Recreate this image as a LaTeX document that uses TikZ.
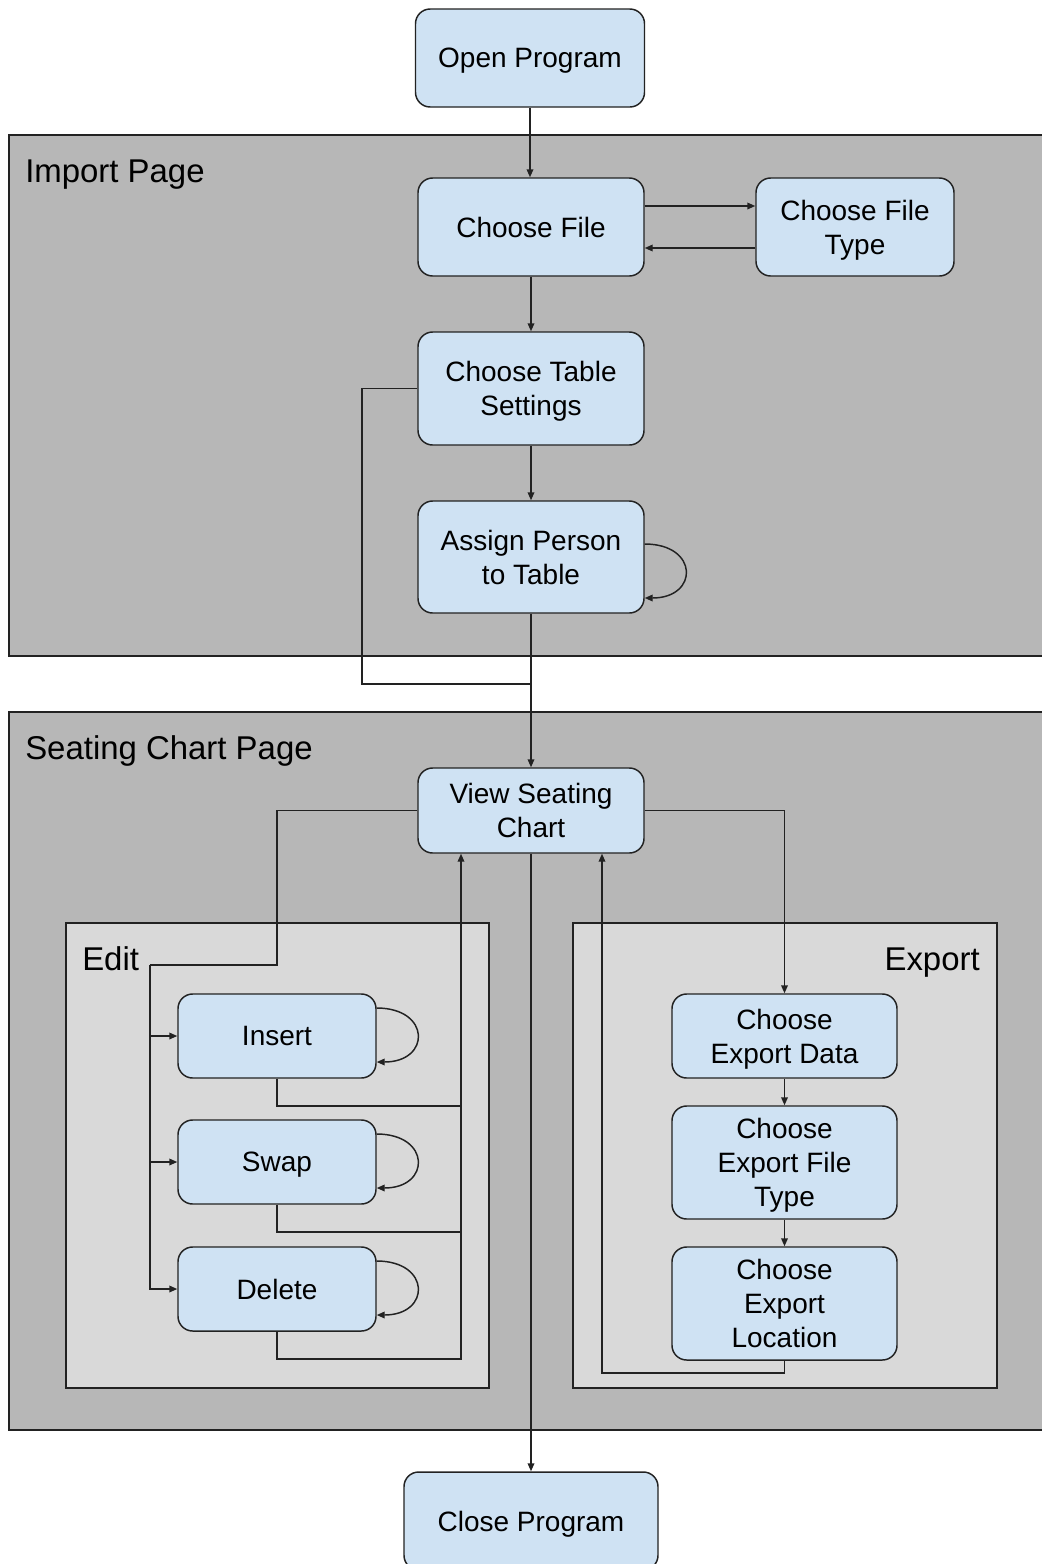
\documentclass[tikz,border=0pt]{standalone}
\usepackage{fontspec}
\setmainfont{Liberation Sans}
\usetikzlibrary{arrows.meta}
\definecolor{nodefill}{HTML}{CFE2F3}
\definecolor{pagegray}{HTML}{B7B7B7}
\definecolor{subgray}{HTML}{D9D9D9}
\definecolor{edgecol}{HTML}{222222}
\begin{document}
\begin{tikzpicture}[x=0.75pt,y=-0.75pt,
  stepbox/.style={draw=edgecol, line width=1.1pt, fill=nodefill, rounded corners=11pt, align=center, font=\fontsize{21}{25.5}\selectfont, inner sep=0pt, text depth=0pt},
  arr/.style={draw=edgecol, line width=1.1pt, -{Triangle[length=6pt,width=5pt]}},
  ln/.style={draw=edgecol, line width=1.1pt},
  panel/.style={draw=edgecol, line width=1.1pt},
  plabel/.style={font=\fontsize{24.7}{29}\selectfont, inner sep=0pt}]
\useasboundingbox (0,0) rectangle (1042,1564);
\clip (0,0) rectangle (1042,1564);
\fill[white] (0,0) rectangle (1042,1564);

% panels
\draw[panel, fill=pagegray] (9,135) rectangle (1050,656);
\draw[panel, fill=pagegray] (9,712) rectangle (1050,1430);
\draw[panel, fill=subgray] (66,923) rectangle (489,1388);
\draw[panel, fill=subgray] (573,923) rectangle (997,1388);
\node[plabel, anchor=base west] (limport) at (25,182) {Import Page};
\node[plabel, anchor=base west] (lseat) at (25,759) {Seating Chart Page};
\node[plabel, anchor=base west] (ledit) at (82,970) {Edit};
\node[plabel, anchor=base east] (lexport) at (980,970) {Export};

% nodes
\node[stepbox, minimum width=171.75pt, minimum height=73.5pt] (open) at (530,58) {Open Program};
\node[stepbox, minimum width=169.5pt, minimum height=73.5pt] (cf) at (531,227) {Choose File};
\node[stepbox, minimum width=148.5pt, minimum height=73.5pt] (cft) at (855,227) {Choose File\\Type};
\node[stepbox, minimum width=169.5pt, minimum height=84.75pt] (cts) at (531,388.5) {Choose Table\\Settings};
\node[stepbox, minimum width=169.5pt, minimum height=84pt] (apt) at (531,557) {Assign Person\\to Table};
\node[stepbox, minimum width=169.5pt, minimum height=63.75pt] (vsc) at (531,810.5) {View Seating\\Chart};
\node[stepbox, minimum width=148.5pt, minimum height=63pt] (ins) at (277,1036) {Insert};
\node[stepbox, minimum width=148.5pt, minimum height=63pt] (swp) at (277,1162) {Swap};
\node[stepbox, minimum width=148.5pt, minimum height=63pt] (del) at (277,1289) {Delete};
\node[stepbox, minimum width=168.75pt, minimum height=63pt] (ced) at (784.5,1036) {Choose\\Export Data};
\node[stepbox, minimum width=168.75pt, minimum height=84.75pt] (eft) at (784.5,1162.5) {Choose\\Export File\\Type};
\node[stepbox, minimum width=168.75pt, minimum height=84.75pt] (eloc) at (784.5,1303.5) {Choose\\Export\\Location};
\node[stepbox, minimum width=190.5pt, minimum height=73.5pt] (close) at (531,1521) {Close Program};

% connectors
\draw[arr] (open.south) -- (open.south |- cf.north);
\draw[arr] (cf.east |- 0,206) -- (cft.west |- 0,206);
\draw[arr] (cft.west |- 0,248) -- (cf.east |- 0,248);
\draw[arr] (cf.south) -- (cts.north);
\draw[arr] (cts.south) -- (apt.north);
\draw[arr] (apt.east |- 0,544) .. controls (699,544) and (699,598) .. (apt.east |- 0,598);
\coordinate (j1) at (531,684);
\draw[ln] (cts.west) -- (362,388.5) -- (362,684) -- (j1);
\draw[arr] (apt.south) -- (vsc.north);

% edit branch
\coordinate (e1) at (150,965);
\draw[ln] (vsc.west) -- (277,810.5) -- (277,965) -- (e1);
\draw[arr] (e1) -- (150,1289) -- (del.west);
\draw[arr] (150,1036) -- (ins.west);
\draw[arr] (150,1162) -- (swp.west);
\draw[arr] (ins.east |- 0,1008) .. controls (431,1008) and (431,1062) .. (ins.east |- 0,1062);
\draw[arr] (swp.east |- 0,1134) .. controls (431,1134) and (431,1188) .. (swp.east |- 0,1188);
\draw[arr] (del.east |- 0,1261) .. controls (431,1261) and (431,1315) .. (del.east |- 0,1315);
\draw[ln] (ins.south) -- (277,1106) -- (461,1106);
\draw[ln] (swp.south) -- (277,1232) -- (461,1232);
\draw[arr] (del.south) -- (277,1359) -- (461,1359) -- (461,1359 |- vsc.south);

% export branch
\draw[arr] (vsc.east) -- (784.5,810.5) -- (ced.north);
\draw[arr] (ced.south) -- (eft.north);
\draw[arr] (eft.south) -- (eloc.north);
\draw[arr] (eloc.south) -- (784.5,1373) -- (602,1373) -- (602,1373 |- vsc.south);

\draw[arr] (vsc.south) -- (close.north);
\end{tikzpicture}
\end{document}
